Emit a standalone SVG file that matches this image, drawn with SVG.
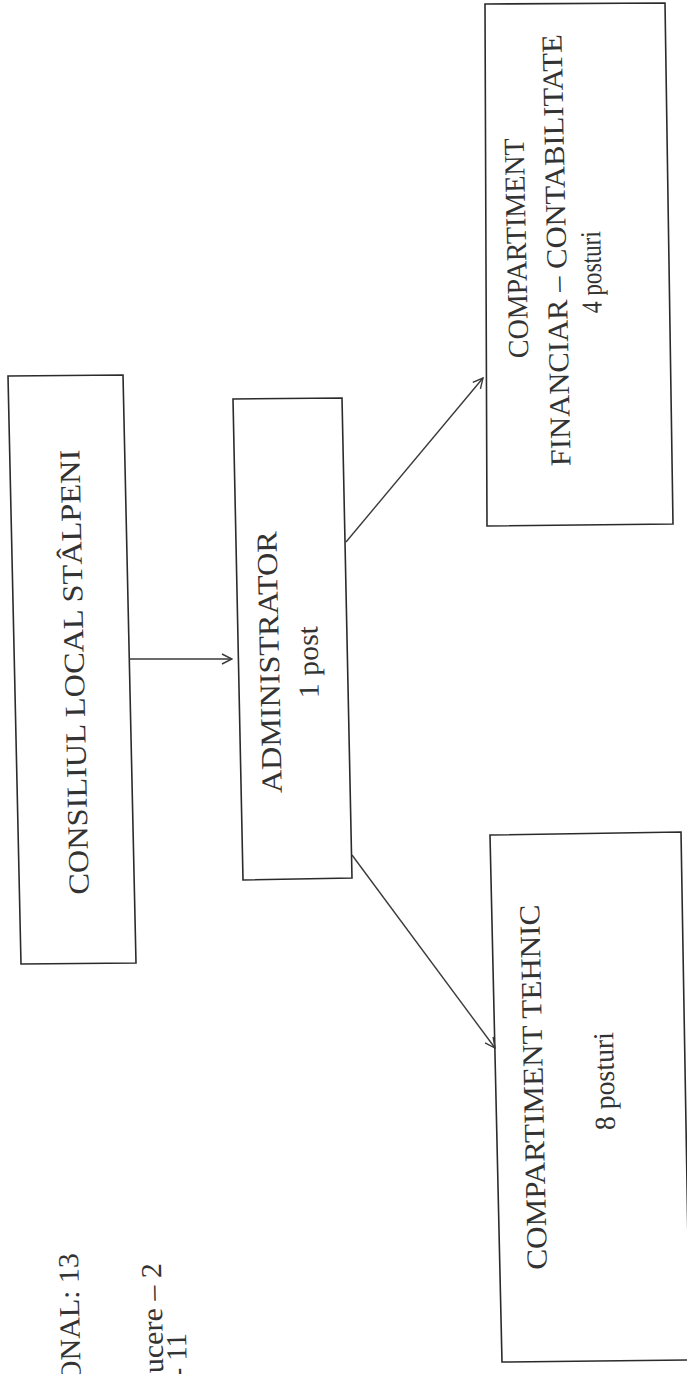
<svg xmlns="http://www.w3.org/2000/svg" width="687" height="1374" viewBox="0 0 687 1374">
<style>
.box{fill:none;stroke:#2b2b2b;stroke-width:1.6}
.lbl{font-family:"Liberation Serif","Times New Roman",serif;font-size:29px;fill:#333333}
.con{fill:none;stroke:#3a3a3a;stroke-width:1.4}
</style>
<defs>
<marker id="ah" viewBox="0 0 12 12" refX="11" refY="6" markerWidth="12" markerHeight="12" markerUnits="userSpaceOnUse" orient="auto">
<path d="M1,1 L11,6 L1,11" fill="none" stroke="#3a3a3a" stroke-width="1.4"/>
</marker>
</defs>
<rect width="687" height="1374" fill="#ffffff"/>
<g id="notes">
<text class="lbl" text-anchor="end" textLength="129" lengthAdjust="spacingAndGlyphs" transform="translate(78,1253) rotate(-91.2)">ONAL: 13</text>
<text class="lbl" text-anchor="end" textLength="110" lengthAdjust="spacingAndGlyphs" transform="translate(161,1263) rotate(-91.2)">ucere – 2</text>
<text class="lbl" text-anchor="end" textLength="44" lengthAdjust="spacingAndGlyphs" transform="translate(186,1333) rotate(-91.2)">- 11</text>
</g>
<g id="consiliu">
<polygon class="box" points="8,376 123,375 136,963 21,964"/>
<text class="lbl" text-anchor="middle" textLength="445" lengthAdjust="spacingAndGlyphs" transform="translate(84,672) rotate(-91.2)">CONSILIUL LOCAL STÂLPENI</text>
</g>
<g id="administrator">
<polygon class="box" points="233,399 342,398 352,878 243,880"/>
<text class="lbl" text-anchor="middle" textLength="262" lengthAdjust="spacingAndGlyphs" transform="translate(279,662) rotate(-91.2)">ADMINISTRATOR</text>
<text class="lbl" text-anchor="middle" textLength="72" lengthAdjust="spacingAndGlyphs" transform="translate(318,662) rotate(-91.2)">1 post</text>
</g>
<g id="financiar">
<polygon class="box" points="485,4 665,3 673,524 487,526"/>
<text class="lbl" text-anchor="middle" textLength="220" lengthAdjust="spacingAndGlyphs" transform="translate(526,248) rotate(-91.2)">COMPARTIMENT</text>
<text class="lbl" text-anchor="middle" textLength="432" lengthAdjust="spacingAndGlyphs" transform="translate(566,250) rotate(-91.2)">FINANCIAR – CONTABILITATE</text>
<text class="lbl" text-anchor="middle" textLength="82" lengthAdjust="spacingAndGlyphs" transform="translate(601,272) rotate(-91.2)">4 posturi</text>
</g>
<g id="tehnic">
<polygon class="box" points="490,835 681,832 690,1360 502,1362"/>
<text class="lbl" text-anchor="middle" textLength="365" lengthAdjust="spacingAndGlyphs" transform="translate(543,1087) rotate(-91.2)">COMPARTIMENT TEHNIC</text>
<text class="lbl" text-anchor="middle" textLength="98" lengthAdjust="spacingAndGlyphs" transform="translate(614,1081) rotate(-91.2)">8 posturi</text>
</g>
<g id="connectors">
<line class="con" x1="129" y1="659" x2="232" y2="659" marker-end="url(#ah)"/>
<line class="con" x1="346" y1="542" x2="483" y2="378" marker-end="url(#ah)"/>
<line class="con" x1="352" y1="855" x2="495" y2="1048" marker-end="url(#ah)"/>
</g>
</svg>
